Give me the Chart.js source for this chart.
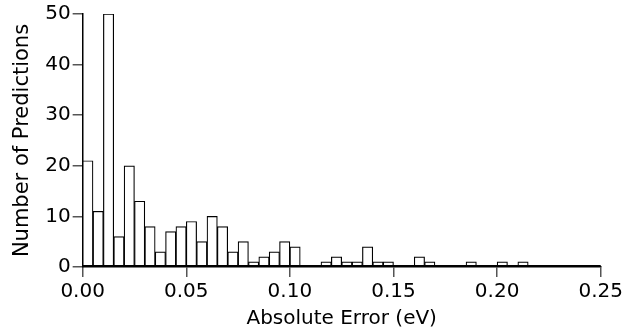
<!DOCTYPE html>
<html>
<head>
<meta charset="utf-8">
<script src="https://cdn.jsdelivr.net/npm/chart.js@4"></script>
<style>
  html, body { margin: 0; padding: 0; background: #fff; }
</style>
</head>
<body>
<canvas id="histChart" width="626" height="335"></canvas>
<script>
// histogram bins of 0.005 eV, labelled by left edge
const binLabels = [
  '0.000', '0.005', '0.010', '0.015', '0.020', '0.025', '0.030', '0.035', '0.040', '0.045',
  '0.050', '0.055', '0.060', '0.065', '0.070', '0.075', '0.080', '0.085', '0.090', '0.095',
  '0.100', '0.105', '0.110', '0.115', '0.120', '0.125', '0.130', '0.135', '0.140', '0.145',
  '0.150', '0.155', '0.160', '0.165', '0.170', '0.175', '0.180', '0.185', '0.190', '0.195',
  '0.200', '0.205', '0.210', '0.215', '0.220', '0.225', '0.230', '0.235', '0.240', '0.245'
];
const counts = [
  21, 11, 50, 6, 20, 13, 8, 3, 7, 8,
  9, 5, 10, 8, 3, 5, 1, 2, 3, 5,
  4, 0, 0, 1, 2, 1, 1, 4, 1, 1,
  0, 0, 2, 1, 0, 0, 0, 1, 0, 0,
  1, 0, 1, 0, 0, 0, 0, 0, 0, 0
];
const xTicks = [0, 0.05, 0.10, 0.15, 0.20, 0.25];
const yTicks = [0, 10, 20, 30, 40, 50];

const FONT = "'DejaVu Sans', sans-serif";

// flat line along zero where the bins are empty
const baseline = {
  id: 'baseline',
  afterDatasetsDraw(chart) {
    const x = chart.scales.x, y = chart.scales.y, c = chart.ctx;
    c.save();
    c.strokeStyle = '#000';
    c.lineWidth = 2;
    c.beginPath();
    c.moveTo(x.getPixelForValue(0), y.getPixelForValue(0) - 1);
    c.lineTo(x.getPixelForValue(0.25), y.getPixelForValue(0) - 1);
    c.stroke();
    c.restore();
  }
};

new Chart(document.getElementById('histChart'), {
  type: 'bar',
  data: {
    labels: binLabels,
    datasets: [{
      data: counts,
      xAxisID: 'bins',
      backgroundColor: '#fff',
      borderColor: '#000',
      borderWidth: 1.2,
      borderSkipped: false,
      barPercentage: 1,
      categoryPercentage: 1
    }]
  },
  options: {
    responsive: false,
    animation: false,
    layout: { padding: { left: 10, right: 0, top: -5, bottom: 4 } },
    plugins: { legend: { display: false }, tooltip: { enabled: false } },
    scales: {
      bins: {
        type: 'category',
        offset: true,
        display: false
      },
      x: {
        type: 'linear',
        position: 'bottom',
        offset: false,
        min: 0,
        max: 0.25,
        afterBuildTicks: s => { s.ticks = xTicks.map(v => ({ value: v })); },
        ticks: {
          callback: v => v.toFixed(2),
          color: '#000',
          font: { family: FONT, size: 20 },
          padding: 3,
          maxRotation: 0
        },
        grid: { offset: false, drawOnChartArea: false, drawTicks: true, tickLength: 10, color: '#555', lineWidth: 1.5 },
        border: { display: true, color: '#000', width: 1.5 },
        title: {
          display: true,
          text: 'Absolute Error (eV)',
          color: '#000',
          font: { family: FONT, size: 20 },
          padding: { top: 0, bottom: 0 }
        }
      },
      y: {
        min: 0,
        max: 50,
        afterBuildTicks: s => { s.ticks = yTicks.map(v => ({ value: v })); },
        ticks: {
          color: '#000',
          font: { family: FONT, size: 20 },
          padding: 2
        },
        grid: { drawOnChartArea: false, drawTicks: true, tickLength: 10, color: '#555', lineWidth: 1.5 },
        border: { display: true, color: '#000', width: 1.5 },
        title: {
          display: true,
          text: 'Number of Predictions',
          color: '#000',
          font: { family: FONT, size: 21 },
          padding: { top: 0, bottom: 8 }
        }
      }
    }
  },
  plugins: [baseline]
});
</script>
</body>
</html>
